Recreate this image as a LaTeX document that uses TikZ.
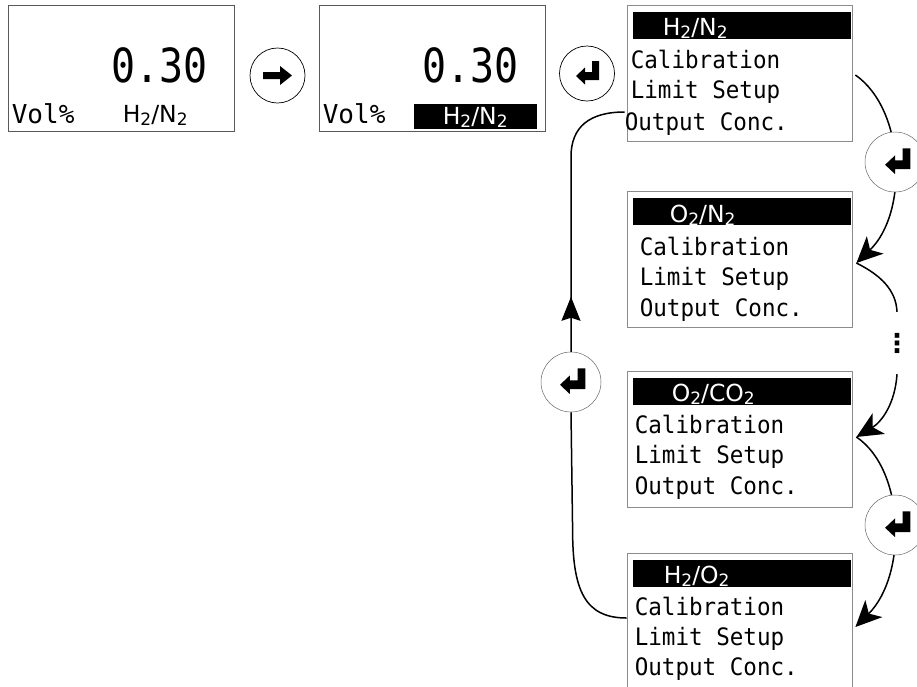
\documentclass[tikz,border=0pt]{standalone}
\usepackage{fontspec}
\usetikzlibrary{arrows.meta, decorations.markings}
\newfontfamily\lcdfont[FakeStretch=0.94]{DejaVu Sans Mono}
\newfontfamily\lcdwide{DejaVu Sans Mono}
\newfontfamily\lcdbig[FakeStretch=0.85]{DejaVu Sans Mono}
\newfontfamily\lcdsans{DejaVu Sans}
\newcommand{\lcdsub}[1]{\raisebox{-3pt}{\fontsize{17}{17}\selectfont #1}}

\tikzset{
  enterkey/.pic={\fill (12,-12.5) -- (5,-12.5) -- (5,-1.5) -- (-2,-1.5) -- (-2,-6) -- (-11,2.5) -- (-2,11) -- (-2,6.5) -- (12,6.5) -- cycle;},
  rightkey/.pic={\fill (-14.5,-3.5) -- (2.5,-3.5) -- (2.5,-9.5) -- (14.5,0) -- (2.5,9.5) -- (2.5,3.5) -- (-14.5,3.5) -- cycle;}
}

\begin{document}
\begin{tikzpicture}[x=1pt, y=-1pt,
  panel/.style={draw=black!65, line width=0.8pt, minimum width=226pt, minimum height=126pt, inner sep=0},
  menubox/.style={draw=black!45, line width=0.8pt, minimum width=225pt, minimum height=136pt, inner sep=0},
  keyring/.style={circle, draw, fill=white, line width=0.7pt, minimum size=55pt, inner sep=0},
  softring/.style={keyring, draw=black!60, line width=0.5pt, minimum size=60pt},
  bignum/.style={anchor=base west, inner sep=0, font=\lcdbig\fontsize{47}{47}\selectfont},
  unit/.style={anchor=base west, inner sep=0, font=\lcdwide\fontsize{26}{26}\selectfont},
  gas/.style={anchor=base west, inner sep=0, font=\lcdsans\fontsize{23.5}{23.5}\selectfont},
  title/.style={gas, text=white},
  item/.style={anchor=base west, inner sep=0, font=\lcdfont\fontsize{24}{24}\selectfont},
  flow/.style={line width=1.5pt},
  bigtip/.style={-{Stealth[length=26pt,width=24pt,inset=7pt]}},
  uptip/.style={decoration={markings, mark=at position 55pt with {\arrow{Stealth[length=24pt,width=19pt,inset=3pt]}}}, postaction={decorate}}]
\useasboundingbox (0,0) rectangle (917,686);
\clip (0,0) rectangle (917,686);

% measured display
\node[panel] (dispA) at (121,68) {};
\node[bignum] (valA) at ([shift={(104,78)}]dispA.north west) {0.30};
\node[unit] (unitA) at ([shift={(4,119)}]dispA.north west) {Vol\%};
\node[gas] (gasA) at ([shift={(115,118)}]dispA.north west) {H\lcdsub{2}/N\lcdsub{2}};

\node[keyring] (nextA) at (277.5,75.5) {};
\pic at (nextA) {rightkey};

% gas selected
\node[panel] (dispB) at (432,68) {};
\fill ([shift={(95,99)}]dispB.north west) rectangle ([shift={(-8,-2)}]dispB.south east);
\node[bignum] (valB) at ([shift={(104,78)}]dispB.north west) {0.30};
\node[unit] (unitB) at ([shift={(4,119)}]dispB.north west) {Vol\%};
\node[title] (gasB) at ([shift={(124,120)}]dispB.north west) {H\lcdsub{2}/N\lcdsub{2}};

\node[keyring] (enterA) at (587,73.5) {};
\pic at (enterA) {enterkey};

% gas menus
\node[menubox] (menuA) at (739.5,73) {};
\fill ([shift={(6,7)}]menuA.north west) rectangle ([shift={(-1,34)}]menuA.north east);
\node[title] (titleA) at ([shift={(36,31)}]menuA.north west) {H\lcdsub{2}/N\lcdsub{2}};
\node[item] (calA) at ([shift={(4,64)}]menuA.north west) {Calibration};
\node[item] (limA) at ([shift={(4,94)}]menuA.north west) {Limit Setup};
\node[item] (outA) at ([shift={(-2,126)}]menuA.north west) {Output Conc.};

\node[menubox] (menuB) at (739.5,259.5) {};
\fill ([shift={(6,7)}]menuB.north west) rectangle ([shift={(-1,34)}]menuB.north east);
\node[title] (titleB) at ([shift={(43,31)}]menuB.north west) {O\lcdsub{2}/N\lcdsub{2}};
\node[item] (calB) at ([shift={(13,64)}]menuB.north west) {Calibration};
\node[item] (limB) at ([shift={(13,94)}]menuB.north west) {Limit Setup};
\node[item] (outB) at ([shift={(13,125)}]menuB.north west) {Output Conc.};

\node[menubox] (menuC) at (739.5,439) {};
\fill ([shift={(6,7)}]menuC.north west) rectangle ([shift={(-1,34)}]menuC.north east);
\node[title] (titleC) at ([shift={(45,31)}]menuC.north west) {O\lcdsub{2}/CO\lcdsub{2}};
\node[item] (calC) at ([shift={(8,63)}]menuC.north west) {Calibration};
\node[item] (limC) at ([shift={(8,93)}]menuC.north west) {Limit Setup};
\node[item] (outC) at ([shift={(8,124)}]menuC.north west) {Output Conc.};

\node[menubox] (menuD) at (739.5,621) {};
\fill ([shift={(6,7)}]menuD.north west) rectangle ([shift={(-1,34)}]menuD.north east);
\node[title] (titleD) at ([shift={(37,31)}]menuD.north west) {H\lcdsub{2}/O\lcdsub{2}};
\node[item] (calD) at ([shift={(8,63)}]menuD.north west) {Calibration};
\node[item] (limD) at ([shift={(8,93)}]menuD.north west) {Limit Setup};
\node[item] (outD) at ([shift={(8,123)}]menuD.north west) {Output Conc.};

\node[inner sep=0, minimum height=62pt] (more) at (897,343) {\lcdsans\bfseries\fontsize{26}{26}\selectfont ⋮};

\node[softring] (enterB) at (571,382) {};
\pic[scale=1.1, xshift=1pt] at (enterB) {enterkey};

% loop through the gases
\draw[flow, bigtip] ([shift={(3,2)}]menuA.east) .. controls +(50,35) and +(52,-50) .. ([shift={(4,3.5)}]menuB.east);
\draw[flow] ([shift={(4,3.5)}]menuB.east) .. controls +(24,12) and +(-1,-22) .. (more.north);
\draw[flow, bigtip] (more.south) .. controls +(-2,30) and +(25,-15) .. ([shift={(4,-2)}]menuC.east);
\draw[flow, bigtip] ([shift={(4,-2)}]menuC.east) .. controls +(49,33) and +(52,-52) .. ([shift={(3,6)}]menuD.east);
\draw[flow] ([yshift=3pt]menuD.west) .. controls +(-42,0) and +(0,60) .. ++(-54,-88) -- (enterB.south);
\draw[flow, uptip] (enterB.north) -- ++(0,-195) .. controls +(0,-30) and +(-35,0) .. ([shift={(-2,39)}]menuA.west);

\node[softring] (enterC) at (895,162) {};
\pic[scale=1.1, xshift=2pt] at (enterC) {enterkey};
\node[softring] (enterD) at (895,525) {};
\pic[scale=1.1, xshift=2pt] at (enterD) {enterkey};
\end{tikzpicture}
\end{document}
